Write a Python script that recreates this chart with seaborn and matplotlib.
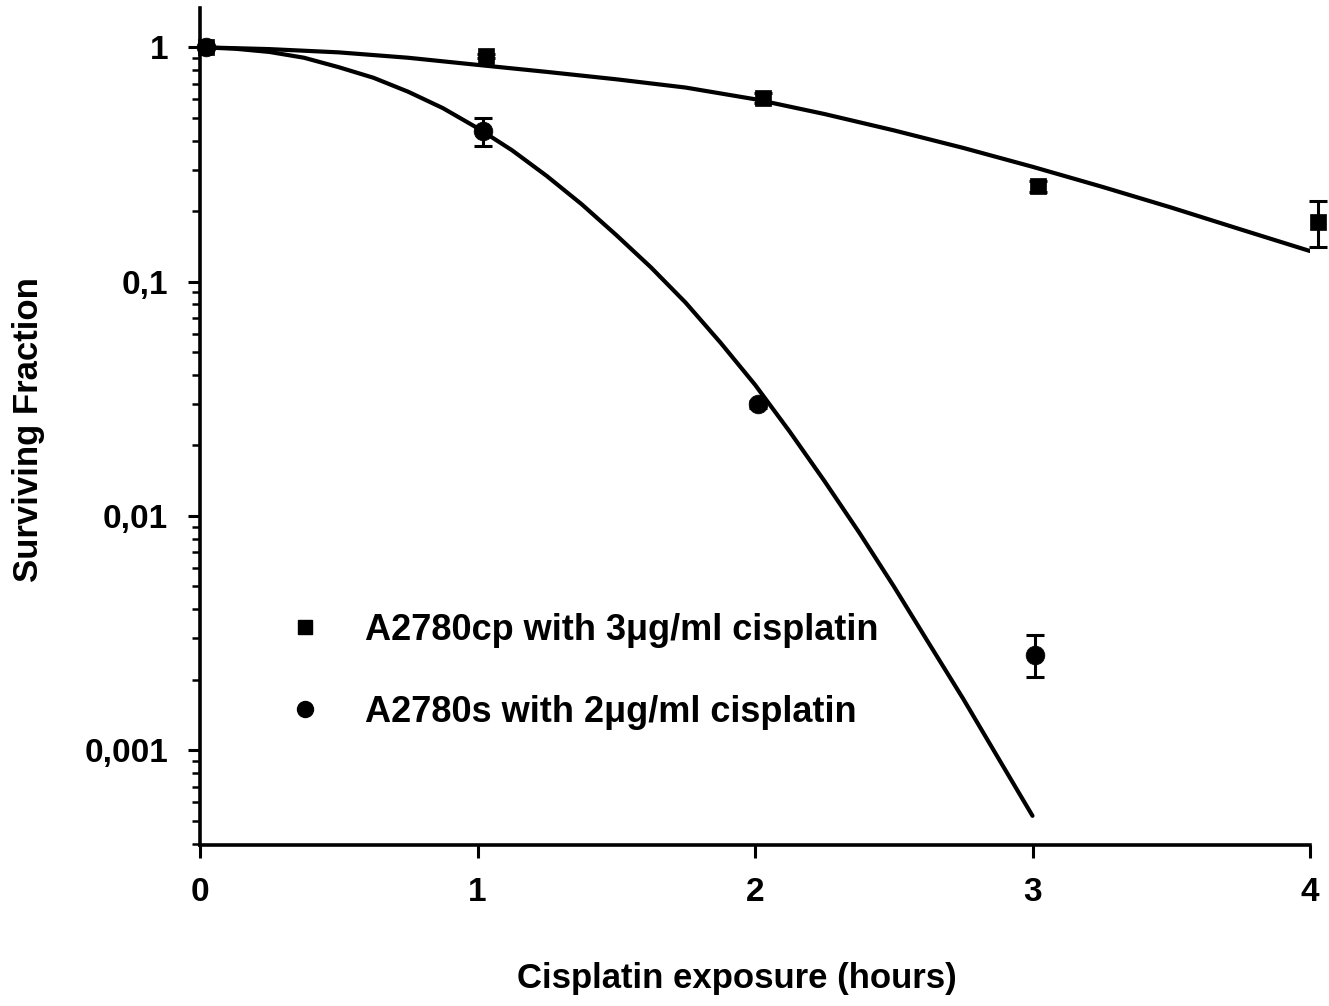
import numpy as np
import pandas as pd
import matplotlib
matplotlib.use("Agg")
import matplotlib.pyplot as plt
from matplotlib.lines import Line2D
from matplotlib.ticker import FixedLocator, FixedFormatter, LogLocator, NullFormatter
import seaborn as sns

# Measured surviving fractions (mean, lower and upper error bounds)
cp_hours = [0.02, 1.03, 2.03, 3.02, 4.03]
cp_sf = [1.0, 0.92, 0.61, 0.255, 0.18]
cp_lo = [1.0, 0.90, 0.58, 0.24, 0.14]
cp_hi = [1.0, 0.94, 0.64, 0.27, 0.22]

s_hours = [0.02, 1.02, 2.01, 3.01]
s_sf = [1.0, 0.44, 0.030, 0.00255]
s_lo = [1.0, 0.38, 0.029, 0.00205]
s_hi = [1.0, 0.50, 0.031, 0.0031]

# Fitted survival curves
cp_fit_hours = [0.0, 0.25, 0.5, 0.75, 1.0, 1.25, 1.5, 1.75, 2.0, 2.25, 2.5,
                2.75, 3.0, 3.25, 3.5, 3.75, 4.0]
cp_fit_sf = [1.0, 0.982, 0.951, 0.902, 0.841, 0.785, 0.730, 0.673, 0.600,
             0.519, 0.442, 0.372, 0.309, 0.254, 0.207, 0.167, 0.135]

s_fit_hours = [0.0, 0.125, 0.25, 0.375, 0.5, 0.625, 0.75, 0.875, 1.0, 1.125,
               1.25, 1.375, 1.5, 1.625, 1.75, 1.875, 2.0, 2.125, 2.25, 2.375,
               2.5, 2.625, 2.75, 2.875, 3.0]
s_fit_sf = [1.0, 0.986, 0.955, 0.902, 0.822, 0.741, 0.646, 0.550, 0.452, 0.363,
            0.282, 0.214, 0.158, 0.115, 0.0813, 0.0550, 0.0363, 0.0229, 0.0141,
            0.00851, 0.00501, 0.00288, 0.00166, 0.000933, 0.000525]

label_cp = "A2780cp with 3\u03bcg/ml cisplatin"
label_s = "A2780s with 2\u03bcg/ml cisplatin"

points = pd.concat([
    pd.DataFrame({"hours": cp_hours, "sf": cp_sf, "lo": cp_lo, "hi": cp_hi, "line": label_cp}),
    pd.DataFrame({"hours": s_hours, "sf": s_sf, "lo": s_lo, "hi": s_hi, "line": label_s}),
], ignore_index=True)
fits = pd.concat([
    pd.DataFrame({"hours": cp_fit_hours, "sf": cp_fit_sf, "line": label_cp}),
    pd.DataFrame({"hours": s_fit_hours, "sf": s_fit_sf, "line": label_s}),
], ignore_index=True)

sns.set_style("ticks")
plt.rcParams["font.family"] = ["Liberation Sans", "DejaVu Sans"]
plt.rcParams["font.weight"] = "bold"
plt.rcParams["text.color"] = "black"
plt.rcParams["axes.labelcolor"] = "black"
plt.rcParams["xtick.color"] = "black"
plt.rcParams["ytick.color"] = "black"

fig = plt.figure(figsize=(13.29, 10.06), dpi=100)
ax = fig.add_axes([0.1505, 0.16, 0.8352, 0.832])

sns.lineplot(data=fits, x="hours", y="sf", units="line", estimator=None,
             color="black", lw=3.0, ax=ax, legend=False, sort=False)
for ln in ax.lines:
    ln.set_solid_joinstyle("round")
    ln.set_solid_capstyle("round")

for lab, mk, ms in [(label_cp, "s", 12), (label_s, "o", 13.5)]:
    d = points[points["line"] == lab]
    err = np.vstack([d["sf"] - d["lo"], d["hi"] - d["sf"]])
    eb = ax.errorbar(d["hours"], d["sf"], yerr=err, fmt="none", ecolor="black",
                     elinewidth=2.2, capsize=6.5, capthick=2.2, zorder=3)
    for art in eb.lines[1] + eb.lines[2]:
        art.set_clip_on(False)
    sns.scatterplot(x=d["hours"], y=d["sf"], marker=mk, s=ms ** 2, color="black",
                    edgecolor="black", linewidth=0.5, ax=ax, legend=False,
                    zorder=4, clip_on=False)

ax.set_yscale("log")
ax.set_xlim(0, 4)
ax.set_ylim(3.94e-4, 1.47)

ax.xaxis.set_major_locator(FixedLocator([0, 1, 2, 3, 4]))
ax.set_xticklabels(["0", "1", "2", "3", "4"])
ax.yaxis.set_major_locator(FixedLocator([0.001, 0.01, 0.1, 1]))
ax.yaxis.set_major_formatter(FixedFormatter(["0,001", "0,01", "0,1", "1"]))
ax.yaxis.set_minor_locator(LogLocator(base=10, subs=np.arange(2, 10)))
ax.yaxis.set_minor_formatter(NullFormatter())

ax.tick_params(axis="both", which="major", labelsize=24, width=2.2, length=9,
               direction="out", colors="black")
ax.tick_params(axis="x", pad=14)
ax.tick_params(axis="y", pad=14)
ax.tick_params(axis="y", which="minor", width=1.8, length=6, direction="out")

for side in ["top", "right"]:
    ax.spines[side].set_visible(False)
for side in ["left", "bottom"]:
    ax.spines[side].set_linewidth(2.6)
    ax.spines[side].set_color("black")

ax.set_xlabel("Cisplatin exposure (hours)", fontsize=25, fontweight="bold")
ax.xaxis.set_label_coords(0.4835, -0.140)
ax.set_ylabel("Surviving Fraction", fontsize=25, fontweight="bold")
ax.yaxis.set_label_coords(-0.14, 0.496)

handles = [
    Line2D([], [], marker="s", ls="none", color="black", markersize=10.5),
    Line2D([], [], marker="o", ls="none", color="black", markersize=11.5),
]
leg = ax.legend(handles, [label_cp, label_s], loc="upper left",
                bbox_to_anchor=(0.049, 0.316), frameon=False,
                handlelength=1.0, handletextpad=1.17, labelspacing=1.30,
                prop={"weight": "bold", "size": 26})
for t in leg.get_texts():
    t.set_color("black")

fig.savefig("out.png", dpi=100, facecolor="white")
